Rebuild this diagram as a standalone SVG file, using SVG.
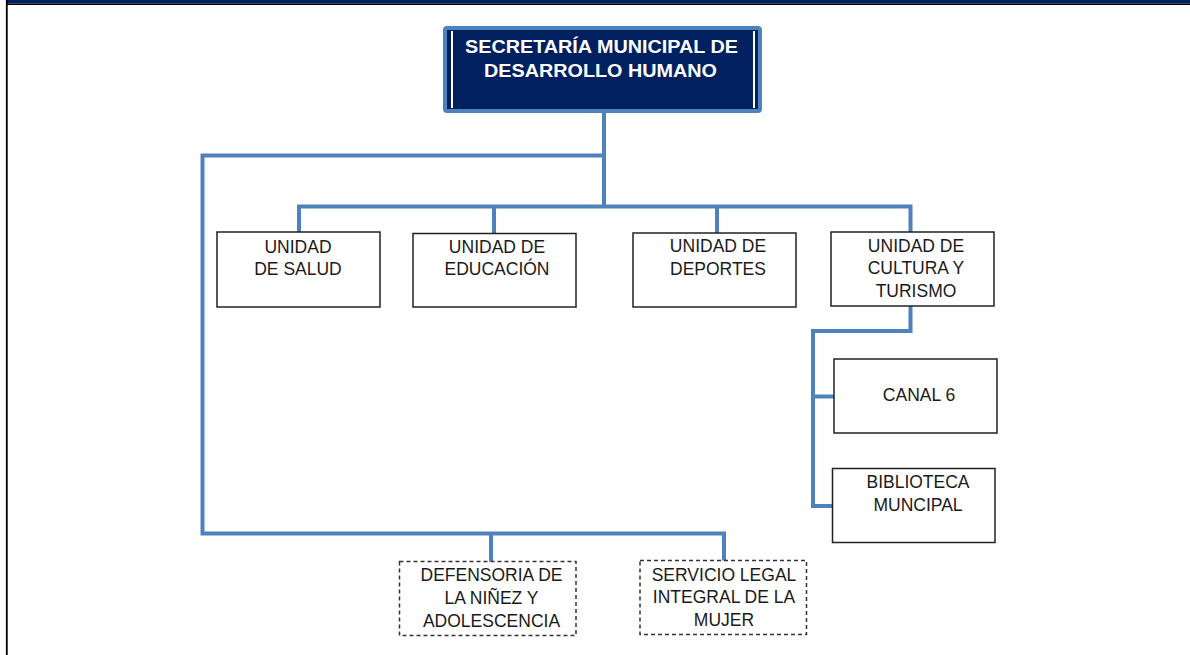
<svg xmlns="http://www.w3.org/2000/svg" width="1190" height="655" viewBox="0 0 1190 655">
<style>
.conn{fill:none;stroke:#4F81BD;stroke-width:4;stroke-linejoin:miter;stroke-linecap:butt}
.box{fill:#fff;stroke:#222;stroke-width:1.5}
.dash{fill:#fff;stroke:#333;stroke-width:1.5;stroke-dasharray:4 3}
.t{font-family:"Liberation Sans",Arial,sans-serif;font-size:17.5px;fill:#1a1a1a;text-anchor:middle}
.h{font-family:"Liberation Sans",Arial,sans-serif;font-size:18px;font-weight:bold;fill:#fff;text-anchor:middle}
</style>
<rect x="0" y="0" width="1190" height="655" fill="#fff"/>
<rect x="7" y="0" width="1183" height="3.5" fill="#002060"/>
<line x1="6" y1="4.2" x2="1190" y2="4.2" stroke="#000" stroke-width="1.6"/>
<line x1="6.8" y1="0" x2="6.8" y2="655" stroke="#000" stroke-width="1.8"/>

<g id="connectors">
<polyline class="conn" points="604,113 604,206"/>
<polyline class="conn" points="604,155.5 202.5,155.5 202.5,533.5 724,533.5 724,561"/>
<polyline class="conn" points="491,533.5 491,562"/>
<polyline class="conn" points="299,233 299,206.5 910.5,206.5 910.5,232"/>
<polyline class="conn" points="494,206.5 494,234"/>
<polyline class="conn" points="717,206.5 717,233"/>
<polyline class="conn" points="910.5,306 910.5,331 813,331 813,506 833,506"/>
<polyline class="conn" points="813,396.5 834,396.5"/>
</g>

<g id="secretaria">
<rect x="445" y="28" width="315" height="83" rx="2" fill="#002060" stroke="#4F81BD" stroke-width="4"/>
<line x1="452" y1="31" x2="452" y2="108" stroke="#fff" stroke-width="2"/>
<line x1="754" y1="31" x2="754" y2="108" stroke="#fff" stroke-width="2"/>
<text class="h" x="601.5" y="53" textLength="273" lengthAdjust="spacingAndGlyphs">SECRETARÍA MUNICIPAL DE</text>
<text class="h" x="600.5" y="77" textLength="233" lengthAdjust="spacingAndGlyphs">DESARROLLO HUMANO</text>
</g>

<g id="salud">
<rect class="box" x="217" y="232" width="163" height="75"/>
<text class="t" x="298" y="252.5">UNIDAD</text>
<text class="t" x="298" y="275">DE SALUD</text>
</g>

<g id="educacion">
<rect class="box" x="413" y="233.5" width="163" height="73.5"/>
<text class="t" x="497" y="252.5">UNIDAD DE</text>
<text class="t" x="497" y="275">EDUCACIÓN</text>
</g>

<g id="deportes">
<rect class="box" x="633" y="233" width="163" height="74"/>
<text class="t" x="718" y="252">UNIDAD DE</text>
<text class="t" x="718" y="275">DEPORTES</text>
</g>

<g id="cultura">
<rect class="box" x="831" y="232" width="163" height="74"/>
<text class="t" x="916" y="251.5">UNIDAD DE</text>
<text class="t" x="916" y="274">CULTURA Y</text>
<text class="t" x="916" y="296.5">TURISMO</text>
</g>

<g id="canal6">
<rect class="box" x="834" y="359" width="163" height="74"/>
<text class="t" x="919" y="400.5">CANAL 6</text>
</g>

<g id="biblioteca">
<rect class="box" x="832.5" y="468.5" width="162.5" height="74"/>
<text class="t" x="918" y="488">BIBLIOTECA</text>
<text class="t" x="918" y="510.5">MUNCIPAL</text>
</g>

<g id="defensoria">
<rect class="dash" x="399.5" y="561.5" width="176.5" height="74"/>
<text class="t" x="491.5" y="581">DEFENSORIA DE</text>
<text class="t" x="491.5" y="604">LA NIÑEZ Y</text>
<text class="t" x="491.5" y="626.5">ADOLESCENCIA</text>
</g>

<g id="servicio">
<rect class="dash" x="640" y="560.5" width="166.5" height="74"/>
<text class="t" x="724" y="580.5">SERVICIO LEGAL</text>
<text class="t" x="724" y="603">INTEGRAL DE LA</text>
<text class="t" x="724" y="626">MUJER</text>
</g>
</svg>
